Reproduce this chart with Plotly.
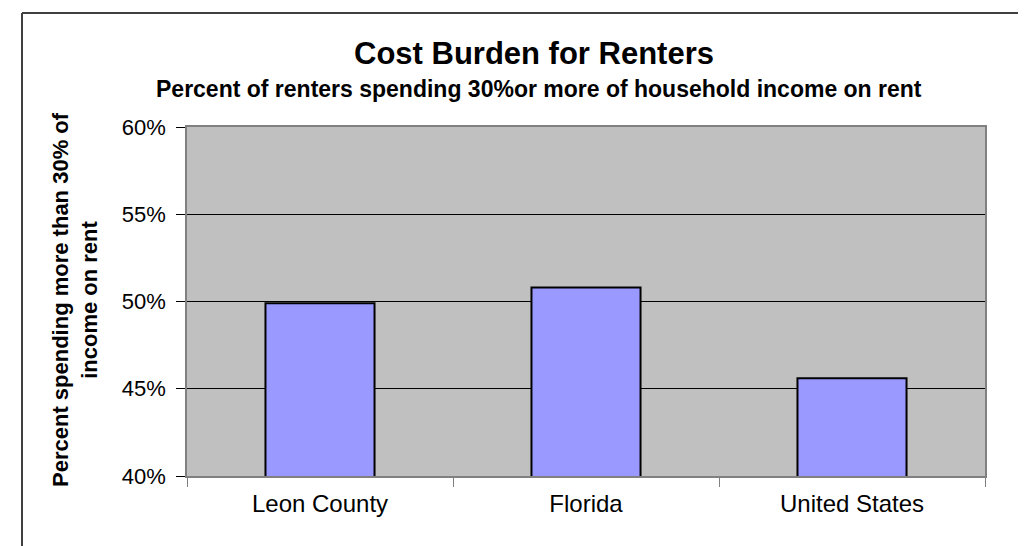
import plotly.graph_objects as go

categories = ['Leon County', 'Florida', 'United States']
pct_cost_burdened = [49.9, 50.8, 45.6]
y_ticks = [40, 45, 50, 55, 60]
y_tick_labels = ['40%', '45%', '50%', '55%', '60%']

W, H = 1026, 546
L, R, T, B = 179, 49, 119, 78
pw, ph = W - L - R, H - T - B


def px(x):
    return (x - L) / pw


def py(y):
    return 1 - (y - T) / ph


fig = go.Figure(go.Bar(
    x=categories, y=pct_cost_burdened, base=0, width=0.41,
    marker=dict(color='#9999FF', line=dict(color='black', width=2)),
))

fig.update_layout(
    width=W, height=H,
    margin=dict(l=L, r=R, t=T, b=B),
    paper_bgcolor='white', plot_bgcolor='#C0C0C0',
    font=dict(family='Liberation Sans, Arial', color='black'),
    showlegend=False,
    xaxis=dict(
        tickson='boundaries', ticks='outside', ticklen=9, tickcolor='#808080',
        showline=True, linecolor='#808080', mirror=True, linewidth=1.5,
        tickfont=dict(size=24), showgrid=False, ticklabelstandoff=5,
    ),
    yaxis=dict(
        range=[40, 60], tickvals=y_ticks, ticktext=y_tick_labels,
        ticks='outside', ticklen=9, tickcolor='black', ticklabelstandoff=6,
        showline=True, linecolor='#808080', mirror=True, linewidth=1.5,
        gridcolor='black', gridwidth=1, tickfont=dict(size=22),
        zeroline=False,
    ),
    annotations=[
        dict(text='<b>Cost Burden for Renters</b>', x=px(526), y=py(45),
             xanchor='center', yanchor='middle',
             xref='paper', yref='paper', showarrow=False, font=dict(size=31)),
        dict(text='<b>Percent of renters spending 30%or more of household income on rent</b>',
             x=px(531), y=py(81), xanchor='center', yanchor='middle',
             xref='paper', yref='paper', showarrow=False, font=dict(size=23)),
        dict(text='<b>Percent spending more than 30% of<br>income on rent</b>',
             x=px(67), y=py(292), xanchor='center', yanchor='middle',
             xref='paper', yref='paper', showarrow=False,
             textangle=-90, font=dict(size=22)),
    ],
    shapes=[
        dict(type='line', xref='paper', yref='paper', x0=px(14), x1=px(1026),
             y0=py(5), y1=py(5), line=dict(color='#404040', width=2)),
        dict(type='line', xref='paper', yref='paper', x0=px(14), x1=px(14),
             y0=py(5), y1=py(546), line=dict(color='#404040', width=2)),
    ],
)

fig.write_html('out.html')
